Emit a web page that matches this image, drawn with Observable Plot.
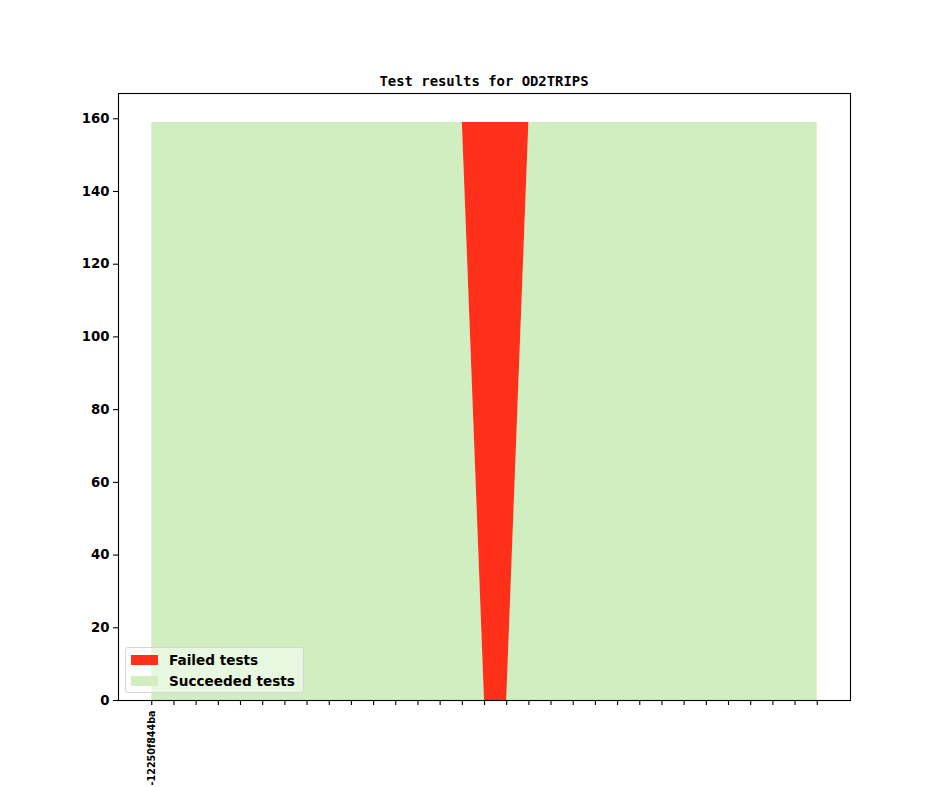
<!DOCTYPE html>
<html>
<head>
<meta charset="utf-8">
<script src="https://cdn.jsdelivr.net/npm/d3@7"></script>
<script src="https://cdn.jsdelivr.net/npm/@observablehq/plot@0.6"></script>
<style>
  body { margin: 0; background: #fff; }
  #wrap { position: relative; width: 944px; height: 787px; overflow: hidden; }
  #title { height: 88px; width: 944px; position: relative; }
  #title span { position: absolute; left: 484px; top: 73px; transform: translateX(-50%);
    font-family: "DejaVu Sans Mono", monospace; font-weight: bold; font-size: 13.9px; line-height: 16px; white-space: nowrap; }
  #legend { position: absolute; left: 125px; top: 647px; width: 177px; height: 44px;
    background: rgba(255,255,255,0.5); border: 1px solid #d6d6d6; border-radius: 3px;
    font-family: "DejaVu Sans", sans-serif; font-weight: bold; font-size: 13.6px; }
  .row { position: absolute; left: 0; height: 16px; line-height: 16px; white-space: nowrap; }
  .patch { position: absolute; left: 5px; top: 2px; width: 27px; height: 10px; }
  .lbl { position: absolute; left: 43px; top: -1px; }
</style>
</head>
<body>
<div id="wrap">
  <div id="title"><span id="titletext"></span></div>
  <div id="chart"></div>
  <div id="legend"></div>
</div>
<script>
const title = "Test results for OD2TRIPS";
const commitLabels = ["-12250f844ba", "", "", "", "", "", "", "", "", "", "",
  "", "", "", "", "", "", "", "", "", "", "", "", "", "", "", "", "", "", "", ""];
const commitIndex = [0,1,2,3,4,5,6,7,8,9,10,11,12,13,14,15,16,17,18,19,20,21,22,23,24,25,26,27,28,29,30];
const succeeded = [159,159,159,159,159,159,159,159,159,159,159,159,159,159,159,0,0,159,159,159,159,159,159,159,159,159,159,159,159,159,159];
const failed    = [0,0,0,0,0,0,0,0,0,0,0,0,0,0,0,159,159,0,0,0,0,0,0,0,0,0,0,0,0,0,0];
const seriesNames = ["Failed tests", "Succeeded tests"];
const seriesColors = ["#ff301a", "#d0eebf"];
const yTicks = [0, 20, 40, 60, 80, 100, 120, 140, 160];

document.getElementById("titletext").textContent = title;

const rows = [];
commitIndex.forEach((i, k) => {
  rows.push({i, series: "Succeeded tests", value: succeeded[k]});
  rows.push({i, series: "Failed tests", value: failed[k]});
});

const chart = Plot.plot({
  width: 944,
  height: 699,
  marginTop: 5,
  marginBottom: 87,
  marginLeft: 118,
  marginRight: 94,
  style: {fontFamily: "DejaVu Sans, sans-serif", fontWeight: "bold", color: "#000", background: "transparent"},
  x: {domain: [-1.5, 31.5]},
  y: {domain: [0, 166.95]},
  color: {domain: seriesNames, range: seriesColors},
  marks: [
    Plot.areaY(rows, Plot.stackY({x: "i", y: "value", fill: "series", z: "series",
      order: ["Succeeded tests", "Failed tests"], curve: "linear"})),
    Plot.frame({stroke: "#000", strokeWidth: 1.1}),
    Plot.axisY({ticks: yTicks, tickSize: 5, tickPadding: 4, fontSize: 13.3, fontWeight: "bold",
      label: null, stroke: "#000", strokeWidth: 1.1}),
    Plot.axisX({ticks: commitIndex, tickFormat: i => commitLabels[i], tickSize: 5, tickPadding: 5,
      tickRotate: -90, fontSize: 9.6, fontWeight: "bold", label: null, stroke: "#000", strokeWidth: 1.1})
  ]
});
document.getElementById("chart").appendChild(chart);

const legend = document.getElementById("legend");
seriesNames.forEach((name, k) => {
  const row = document.createElement("div");
  row.className = "row";
  row.style.top = (k === 0 ? 5 : 26) + "px";
  row.innerHTML = `<div class="patch" style="background:${seriesColors[k]}"></div><div class="lbl"></div>`;
  row.querySelector(".lbl").textContent = name;
  legend.appendChild(row);
});
</script>
</body>
</html>
